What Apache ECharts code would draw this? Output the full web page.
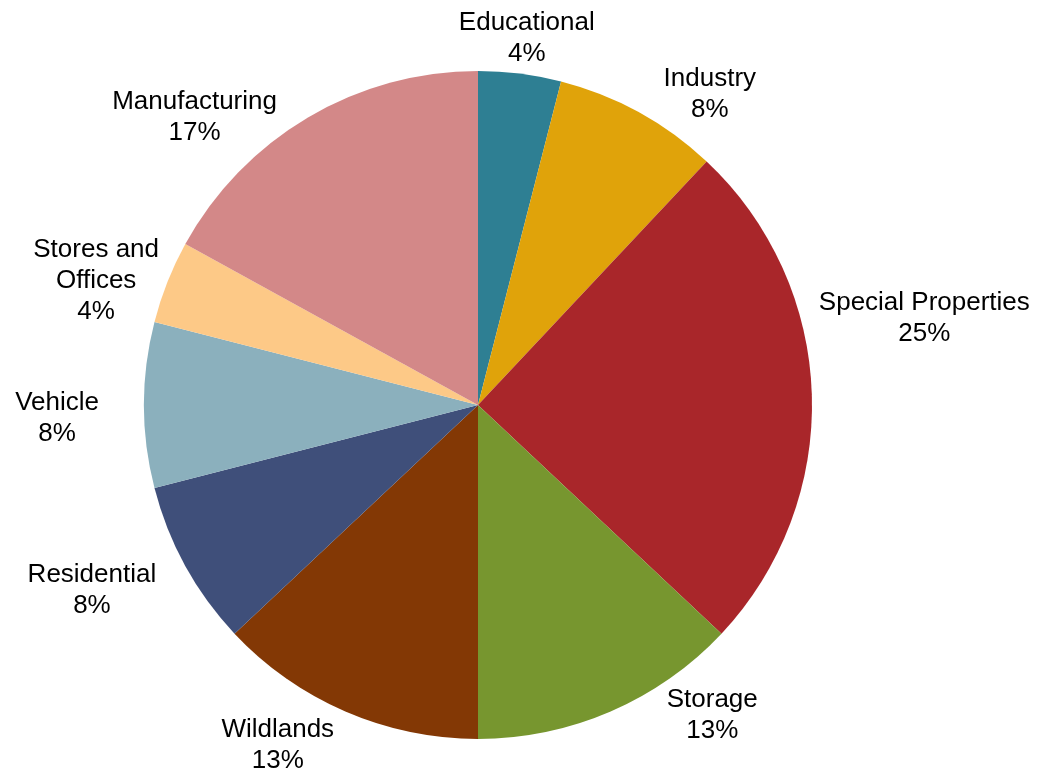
<!DOCTYPE html>
<html>
<head>
<meta charset="utf-8">
<script src="https://cdn.jsdelivr.net/npm/echarts@6/dist/echarts.min.js"></script>
<style>html,body{margin:0;padding:0;background:#fff;}#c{width:1041px;height:775px;}</style>
</head>
<body>
<div id="c"></div>
<script>
// ---- data ----
const categories = ['Educational', 'Industry', 'Special Properties', 'Storage', 'Wildlands', 'Residential', 'Vehicle', 'Stores and Offices', 'Manufacturing'];
const values = [4, 8, 25, 13, 13, 8, 8, 4, 17];
const colors = ['#2E7F93', '#E0A30A', '#A9262A', '#77962F', '#833805', '#3F4F7A', '#8BB0BD', '#FDC987', '#D38888'];
const labelBreaks = { 'Stores and Offices': 'Stores and\nOffices' };

// ---- layout ----
const CX = 478, CY = 405, R = 334, GAP = 8;
// label nudges (px) relative to the mid-angle placement, mimicking the original's label arrangement
const labelNudge = [[2,4],[50,20],[-1,-73],[85,-35],[-51,-5],[-30,-10],[-37,13],[-1,27],[-91,38]];

const total = values.reduce((a, b) => a + b, 0);
const midAngles = [];
let acc = 0;
values.forEach(v => { midAngles.push((acc + v / 2) / total * 2 * Math.PI); acc += v; });

const chart = echarts.init(document.getElementById('c'), null, { renderer: 'canvas' });
chart.setOption({
  animation: false,
  backgroundColor: '#ffffff',
  series: [{
    type: 'pie',
    center: [CX, CY],
    radius: R,
    startAngle: 90,
    clockwise: true,
    data: categories.map((n, i) => ({ name: n, value: values[i], itemStyle: { color: colors[i] } })),
    label: {
      show: true,
      position: 'outside',
      alignTo: 'none',
      overflow: 'none',
      color: '#000',
      fontFamily: 'Liberation Sans, Arial, sans-serif',
      fontSize: 26,
      lineHeight: 31,
      align: 'center',
      formatter: p => (labelBreaks[p.name] || p.name) + '\n' + p.value + '%'
    },
    labelLine: { show: false },
    labelLayout: function (params) {
      const i = params.dataIndex;
      const th = midAngles[i];
      const s = Math.sin(th), c = Math.cos(th);
      const w = params.labelRect.width / 2, h = params.labelRect.height / 2;
      const ext = Math.min(Math.abs(s) > 1e-6 ? w / Math.abs(s) : 1e9, Math.abs(c) > 1e-6 ? h / Math.abs(c) : 1e9);
      const d = R + GAP + ext;
      return {
        x: CX + d * s + labelNudge[i][0],
        y: CY - d * c + labelNudge[i][1],
        align: 'center',
        verticalAlign: 'middle'
      };
    }
  }]
});
</script>
</body>
</html>
